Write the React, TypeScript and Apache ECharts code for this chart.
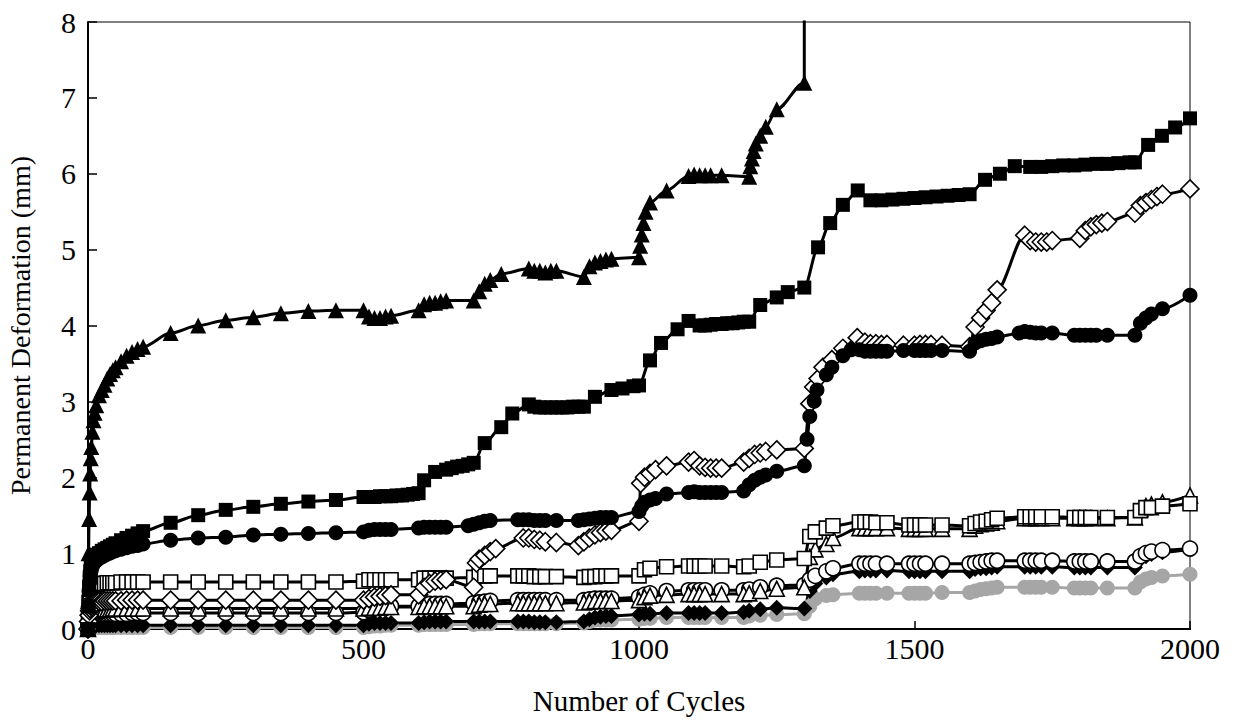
import React, { useEffect, useRef } from "react";
import * as echarts from "echarts";

// ---- Data (cycles, permanent deformation in mm) ----
const triFilledX = [0,1,2,3,4,5,6,8,10,12,15,20,25,30,35,40,45,50,60,70,80,90,100,150,200,250,300,350,400,450,500,510,520,530,540,550,600,610,620,630,640,650,700,710,720,730,750,800,810,820,830,840,850,900,910,920,930,940,950,1000,1002,1005,1008,1012,1020,1050,1090,1100,1110,1120,1130,1150,1200,1202,1205,1208,1212,1220,1230,1250,1300];
const triFilledY = [0,1.0,1.45,1.8,2.05,2.25,2.4,2.6,2.75,2.85,2.95,3.08,3.15,3.22,3.3,3.36,3.41,3.45,3.53,3.6,3.65,3.69,3.72,3.9,4.0,4.07,4.11,4.16,4.19,4.2,4.2,4.12,4.1,4.1,4.12,4.13,4.2,4.28,4.3,4.3,4.32,4.33,4.33,4.45,4.55,4.6,4.68,4.75,4.72,4.72,4.7,4.72,4.72,4.64,4.78,4.83,4.85,4.87,4.88,4.9,5.05,5.2,5.35,5.5,5.62,5.78,5.97,5.99,5.98,5.98,5.98,5.98,5.96,6.1,6.2,6.3,6.4,6.5,6.62,6.85,7.2];
const triFilledFailure = [1300, 10];

const sqFilledX = [0,1,2,3,4,5,6,8,10,12,15,20,25,30,35,40,45,50,60,70,80,90,100,150,200,250,300,350,400,450,500,510,520,530,540,550,560,570,580,590,600,610,630,650,660,670,680,690,700,720,750,770,800,810,820,830,840,850,860,870,880,890,900,920,950,970,990,1000,1020,1040,1070,1090,1110,1120,1130,1140,1150,1160,1170,1180,1190,1200,1220,1250,1270,1300,1325,1347,1370,1397,1420,1440,1460,1480,1500,1520,1540,1560,1580,1600,1628,1655,1682,1710,1730,1750,1770,1790,1810,1830,1850,1870,1890,1900,1924,1949,1973,2000];
const sqFilledY = [0,0.3,0.55,0.68,0.76,0.82,0.86,0.9,0.93,0.95,0.98,1.0,1.03,1.05,1.07,1.09,1.11,1.13,1.17,1.2,1.23,1.26,1.29,1.4,1.5,1.57,1.61,1.65,1.68,1.7,1.74,1.74,1.74,1.75,1.75,1.75,1.76,1.76,1.77,1.78,1.79,1.96,2.07,2.1,2.12,2.14,2.15,2.17,2.19,2.45,2.66,2.84,2.96,2.93,2.92,2.92,2.92,2.92,2.92,2.92,2.93,2.93,2.93,3.06,3.15,3.17,3.2,3.21,3.54,3.77,3.95,4.06,4.0,4.0,4.01,4.02,4.02,4.03,4.03,4.04,4.05,4.05,4.27,4.37,4.44,4.5,5.03,5.35,5.59,5.78,5.65,5.65,5.66,5.67,5.68,5.69,5.7,5.71,5.72,5.73,5.92,6.0,6.1,6.09,6.09,6.1,6.11,6.11,6.12,6.13,6.13,6.14,6.15,6.15,6.38,6.5,6.61,6.73];

const cirFilledX = [0,1,2,3,4,5,6,8,10,12,15,20,25,30,35,40,45,50,60,70,80,90,100,150,200,250,300,350,400,450,500,510,520,530,540,550,600,610,620,630,640,650,690,700,710,720,730,780,790,800,810,820,830,850,890,900,910,920,930,940,950,1000,1005,1010,1020,1030,1050,1090,1100,1110,1120,1130,1140,1150,1190,1200,1210,1220,1230,1250,1300,1305,1310,1318,1323,1340,1350,1370,1385,1400,1410,1420,1430,1440,1450,1480,1500,1510,1520,1530,1550,1600,1610,1620,1630,1640,1650,1690,1700,1710,1720,1730,1750,1790,1800,1810,1820,1830,1850,1900,1910,1920,1930,1950,2000];
const cirFilledY = [0,0.3,0.5,0.62,0.7,0.75,0.78,0.83,0.86,0.88,0.9,0.93,0.95,0.97,0.99,1.0,1.02,1.03,1.05,1.07,1.09,1.1,1.12,1.17,1.2,1.21,1.24,1.25,1.26,1.27,1.28,1.3,1.31,1.31,1.31,1.31,1.33,1.34,1.34,1.34,1.34,1.34,1.36,1.38,1.4,1.42,1.43,1.44,1.44,1.44,1.43,1.43,1.43,1.43,1.43,1.44,1.45,1.46,1.47,1.47,1.47,1.55,1.62,1.67,1.7,1.72,1.78,1.8,1.81,1.8,1.8,1.8,1.8,1.8,1.82,1.9,1.96,2.0,2.03,2.08,2.15,2.5,2.8,3.0,3.15,3.35,3.45,3.6,3.68,3.68,3.66,3.66,3.66,3.66,3.66,3.67,3.67,3.67,3.67,3.67,3.67,3.66,3.77,3.8,3.82,3.83,3.85,3.9,3.92,3.91,3.9,3.9,3.9,3.87,3.87,3.87,3.87,3.87,3.87,3.87,4.03,4.1,4.15,4.22,4.4];

const diaOpenX = [0,1,2,3,4,5,6,8,10,12,15,20,25,30,35,40,45,50,60,70,80,90,100,150,200,250,300,350,400,450,500,510,520,530,540,550,600,610,620,630,640,650,700,705,710,720,730,740,790,800,810,820,830,850,890,900,910,920,930,940,950,1000,1003,1010,1020,1030,1050,1090,1100,1110,1120,1130,1140,1150,1190,1200,1210,1220,1230,1250,1300,1310,1317,1325,1334,1350,1370,1396,1410,1420,1430,1440,1450,1480,1500,1510,1520,1530,1550,1600,1610,1620,1630,1640,1650,1700,1710,1720,1730,1740,1750,1800,1810,1820,1830,1840,1850,1900,1910,1920,1930,1940,1950,2000];
const diaOpenY = [0,0.1,0.18,0.24,0.27,0.3,0.31,0.33,0.34,0.35,0.35,0.36,0.36,0.37,0.37,0.37,0.37,0.37,0.37,0.38,0.38,0.38,0.38,0.38,0.38,0.38,0.38,0.38,0.38,0.38,0.38,0.4,0.42,0.43,0.44,0.45,0.45,0.55,0.6,0.63,0.64,0.65,0.55,0.87,0.92,0.97,1.02,1.06,1.2,1.2,1.18,1.17,1.15,1.14,1.1,1.15,1.2,1.24,1.27,1.29,1.3,1.42,1.92,2.0,2.05,2.1,2.15,2.2,2.22,2.15,2.13,2.12,2.12,2.12,2.2,2.25,2.3,2.32,2.34,2.36,2.38,2.97,3.19,3.3,3.45,3.55,3.7,3.84,3.78,3.76,3.76,3.75,3.75,3.74,3.74,3.75,3.75,3.75,3.74,3.72,3.98,4.1,4.2,4.3,4.47,5.19,5.12,5.1,5.1,5.1,5.12,5.15,5.25,5.3,5.33,5.35,5.37,5.48,5.58,5.62,5.66,5.7,5.73,5.8];

// shared sampling for the lower series
const lowX = [0,1,2,3,4,5,6,8,10,12,15,20,25,30,35,40,45,50,60,70,80,90,100,150,200,250,300,350,400,450,500,510,520,530,540,550,600,610,620,630,640,650,700,710,720,730,780,790,800,810,820,830,850,900,910,920,930,940,950,1000,1010,1020,1050,1090,1100,1110,1120,1150,1190,1200,1220,1250,1300,1310,1320,1340,1352,1400,1410,1420,1430,1450,1490,1500,1510,1520,1550,1600,1610,1620,1630,1640,1650,1700,1710,1720,1730,1750,1790,1800,1810,1820,1850,1900,1910,1920,1930,1950,2000];
const sqOpenY = [0,0.2,0.35,0.44,0.49,0.52,0.54,0.56,0.57,0.58,0.59,0.6,0.6,0.6,0.61,0.61,0.61,0.61,0.62,0.62,0.62,0.62,0.62,0.62,0.62,0.62,0.62,0.62,0.62,0.62,0.63,0.65,0.65,0.65,0.65,0.65,0.65,0.67,0.67,0.67,0.67,0.67,0.68,0.7,0.7,0.7,0.7,0.7,0.7,0.69,0.69,0.69,0.69,0.68,0.69,0.69,0.7,0.7,0.7,0.7,0.78,0.8,0.82,0.83,0.83,0.83,0.83,0.83,0.82,0.83,0.88,0.91,0.93,1.22,1.28,1.33,1.36,1.41,1.41,1.41,1.4,1.4,1.37,1.37,1.37,1.37,1.37,1.36,1.39,1.41,1.42,1.44,1.46,1.48,1.48,1.48,1.48,1.48,1.47,1.47,1.47,1.47,1.47,1.47,1.56,1.6,1.6,1.62,1.65];
const triOpenY = [0,0.08,0.13,0.16,0.18,0.2,0.21,0.22,0.23,0.24,0.24,0.25,0.25,0.26,0.26,0.26,0.27,0.27,0.27,0.27,0.27,0.27,0.27,0.27,0.27,0.27,0.27,0.27,0.27,0.27,0.27,0.28,0.28,0.28,0.29,0.29,0.29,0.3,0.3,0.3,0.3,0.3,0.3,0.32,0.33,0.33,0.34,0.34,0.34,0.34,0.34,0.34,0.34,0.35,0.36,0.37,0.37,0.37,0.37,0.38,0.42,0.44,0.45,0.46,0.46,0.46,0.46,0.46,0.46,0.47,0.5,0.53,0.55,0.95,1.05,1.12,1.2,1.33,1.33,1.33,1.33,1.33,1.32,1.32,1.32,1.32,1.32,1.32,1.36,1.38,1.39,1.4,1.42,1.46,1.46,1.46,1.46,1.46,1.46,1.46,1.46,1.46,1.46,1.47,1.58,1.62,1.64,1.67,1.76];
const cirOpenY = [0,0.05,0.09,0.12,0.14,0.15,0.16,0.17,0.18,0.18,0.19,0.19,0.2,0.2,0.2,0.2,0.2,0.2,0.2,0.2,0.21,0.21,0.21,0.21,0.21,0.21,0.21,0.21,0.21,0.21,0.22,0.25,0.27,0.28,0.29,0.3,0.3,0.32,0.33,0.33,0.33,0.33,0.34,0.35,0.36,0.37,0.38,0.38,0.38,0.38,0.38,0.38,0.38,0.38,0.39,0.4,0.4,0.4,0.4,0.42,0.45,0.47,0.5,0.51,0.51,0.51,0.51,0.51,0.51,0.52,0.55,0.57,0.58,0.65,0.7,0.76,0.8,0.86,0.86,0.86,0.86,0.86,0.86,0.86,0.86,0.86,0.86,0.86,0.87,0.88,0.89,0.9,0.9,0.9,0.9,0.9,0.9,0.9,0.89,0.89,0.89,0.89,0.89,0.89,0.96,1.0,1.02,1.04,1.06];
const diaFilledY = [0,0.02,0.03,0.03,0.04,0.04,0.04,0.05,0.05,0.05,0.05,0.05,0.05,0.05,0.05,0.05,0.05,0.05,0.05,0.05,0.05,0.05,0.05,0.05,0.05,0.05,0.05,0.05,0.05,0.05,0.05,0.07,0.08,0.08,0.08,0.08,0.08,0.09,0.1,0.1,0.1,0.1,0.1,0.1,0.1,0.1,0.1,0.1,0.1,0.09,0.09,0.09,0.09,0.1,0.13,0.15,0.16,0.17,0.17,0.19,0.2,0.2,0.21,0.21,0.21,0.21,0.21,0.21,0.22,0.24,0.26,0.28,0.27,0.5,0.6,0.68,0.72,0.76,0.77,0.77,0.77,0.77,0.76,0.76,0.76,0.76,0.76,0.76,0.79,0.8,0.8,0.81,0.82,0.82,0.82,0.82,0.82,0.82,0.81,0.81,0.81,0.81,0.81,0.81,0.92,0.96,0.99,1.01,1.05];
const cirGrayY = [0,0.01,0.01,0.01,0.02,0.02,0.02,0.02,0.02,0.02,0.02,0.02,0.02,0.02,0.02,0.02,0.02,0.02,0.02,0.02,0.02,0.02,0.02,0.02,0.02,0.02,0.02,0.02,0.02,0.02,0.02,0.03,0.04,0.04,0.05,0.05,0.05,0.06,0.06,0.06,0.06,0.06,0.06,0.07,0.07,0.07,0.07,0.07,0.07,0.07,0.07,0.07,0.07,0.08,0.1,0.12,0.12,0.12,0.12,0.13,0.14,0.14,0.15,0.15,0.15,0.15,0.15,0.15,0.15,0.17,0.18,0.19,0.2,0.3,0.4,0.44,0.45,0.47,0.47,0.47,0.47,0.47,0.47,0.47,0.47,0.47,0.48,0.48,0.5,0.52,0.53,0.54,0.55,0.55,0.55,0.55,0.55,0.55,0.54,0.54,0.54,0.54,0.54,0.54,0.62,0.66,0.68,0.7,0.72];

const xTicks = { min: 0, max: 2000, interval: 500 };
const yTicks = { min: 0, max: 8, interval: 1 };

const FONT = "'Liberation Serif', 'Times New Roman', serif";

function pairs(xs: number[], ys: number[]) {
  return xs.map((x, i) => [x, ys[i]]);
}

function mkSeries(name: string, data: any[], symbol: string, size: number, filled: boolean, color = "#000") {
  return {
    name,
    type: "line",
    data,
    symbol,
    symbolSize: size,
    smooth: 0.3,
    smoothMonotone: "x",
    lineStyle: { color, width: 3 },
    itemStyle: filled
      ? { color, borderColor: color, borderWidth: 0 }
      : { color: "#fff", borderColor: color, borderWidth: 1.6 },
    showAllSymbol: true,
    z: 2,
  };
}

export default function App() {
  const ref = useRef<HTMLDivElement>(null);
  useEffect(() => {
    if (!ref.current) return;
    const chart = echarts.init(ref.current, null, { renderer: "svg" });
    const triData: any[] = pairs(triFilledX, triFilledY);
    triData.push({ value: triFilledFailure, symbol: "none" });
    const option: any = {
      animation: false,
      backgroundColor: "#fff",
      textStyle: { fontFamily: FONT },
      grid: {
        left: 88, right: 43, top: 22, bottom: 94,
        show: true, borderColor: "#000", borderWidth: 1,
        containLabel: false, outerBoundsMode: "none",
      },
      xAxis: [
        {
          type: "value",
          ...xTicks,
          name: "Number of Cycles",
          nameLocation: "middle",
          nameGap: 57,
          nameTextStyle: { fontFamily: FONT, fontSize: 29, color: "#000" },
          axisLine: { show: true, onZero: false, lineStyle: { color: "#000", width: 2 } },
          axisTick: { show: true, inside: true, length: 8, lineStyle: { color: "#000", width: 1.5 } },
          axisLabel: { fontFamily: FONT, fontSize: 30, color: "#000", margin: 4, formatter: (v: number) => String(v) },
          splitLine: { show: false },
        },
        {
          type: "value",
          ...xTicks,
          position: "top",
          axisLine: { show: true, lineStyle: { color: "#000", width: 2 } },
          axisTick: { show: false },
          axisLabel: { show: false },
          splitLine: { show: false },
        },
      ],
      yAxis: {
        type: "value",
        ...yTicks,
        name: "Permanent Deformation (mm)",
        nameLocation: "middle",
        nameGap: 54,
        nameTextStyle: { fontFamily: FONT, fontSize: 28, color: "#000" },
        axisLine: { show: true, onZero: false, lineStyle: { color: "#000", width: 2 } },
        axisTick: { show: true, inside: true, length: 9, lineStyle: { color: "#000", width: 1.5 } },
        axisLabel: { fontFamily: FONT, fontSize: 30, color: "#000", margin: 12 },
        splitLine: { show: false },
      },
      series: [
        mkSeries("Gray circle", pairs(lowX, cirGrayY), "circle", 15, true, "#a6a6a6"),
        mkSeries("Filled diamond", pairs(lowX, diaFilledY), "diamond", 16, true),
        mkSeries("Open circle", pairs(lowX, cirOpenY), "circle", 15, false),
        mkSeries("Open triangle", pairs(lowX, triOpenY), "triangle", 15, false),
        mkSeries("Open square", pairs(lowX, sqOpenY), "rect", 14, false),
        mkSeries("Open diamond", pairs(diaOpenX, diaOpenY), "diamond", 18, false),
        mkSeries("Filled circle", pairs(cirFilledX, cirFilledY), "circle", 15, true),
        mkSeries("Filled square", pairs(sqFilledX, sqFilledY), "rect", 14, true),
        mkSeries("Filled triangle", triData, "triangle", 16, true),
      ],
    };
    chart.setOption(option);
    return () => chart.dispose();
  }, []);
  return <div ref={ref} style={{ position: "absolute", left: 0, top: 0, width: 1233, height: 723 }} />;
}
